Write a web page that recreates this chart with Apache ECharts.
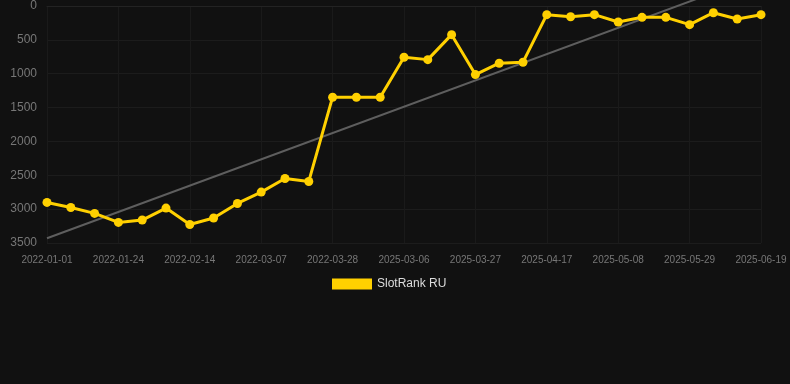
<!DOCTYPE html>
<html>
<head>
<meta charset="utf-8">
<script src="https://cdn.jsdelivr.net/npm/echarts@6/dist/echarts.min.js"></script>
<style>
html,body{margin:0;padding:0;background:#111111;}
#c{width:790px;height:384px;}
</style>
</head>
<body>
<div id="c"></div>
<script>
const categories = [
  '2022-01-01','2022-01-08','2022-01-16','2022-01-24','2022-01-31','2022-02-07',
  '2022-02-14','2022-02-21','2022-02-28','2022-03-07','2022-03-14','2022-03-21',
  '2022-03-28','2025-02-20','2025-02-27','2025-03-06','2025-03-13','2025-03-20',
  '2025-03-27','2025-04-03','2025-04-10','2025-04-17','2025-04-24','2025-05-01',
  '2025-05-08','2025-05-15','2025-05-22','2025-05-29','2025-06-05','2025-06-12',
  '2025-06-19'
];
const rankValues = [
  2901, 2975, 3063, 3196, 3161, 2984,
  3226, 3131, 2916, 2748, 2547, 2591,
  1347, 1347, 1347, 757, 792, 423,
  1013, 845, 830, 128, 158, 128,
  236, 167, 167, 276, 99, 192,
  128
];
const trendEnds = [3430, -455];
const yTicks = { min: 0, max: 3500, interval: 500 };
const seriesName = 'SlotRank RU';

const last = categories.length - 1;
const trendData = categories.map((c, i) => i === 0 ? trendEnds[0] : (i === last ? trendEnds[1] : null));

const chart = echarts.init(document.getElementById('c'), null, { renderer: 'canvas' });
chart.setOption({
  backgroundColor: '#111111',
  animation: false,
  grid: { left: 47, right: 29, top: 6, bottom: 141, containLabel: false },
  legend: {
    show: true,
    data: [{ name: seriesName, icon: 'rect' }],
    top: 273,
    left: 327,
    itemWidth: 40,
    itemHeight: 11,
    itemGap: 6,
    textStyle: { color: '#dddddd', fontSize: 12, fontFamily: 'Liberation Sans, Arial, sans-serif' }
  },
  xAxis: {
    type: 'category',
    data: categories,
    boundaryGap: false,
    axisLine: { show: true, lineStyle: { color: '#232323' } },
    axisTick: { show: false },
    axisLabel: { interval: 2, color: '#777777', fontSize: 10, margin: 12, fontFamily: 'Liberation Sans, Arial, sans-serif' },
    splitLine: { show: true, interval: 2, lineStyle: { color: '#1a1a1a', width: 1 } }
  },
  yAxis: {
    type: 'value',
    inverse: true,
    min: yTicks.min,
    max: yTicks.max,
    interval: yTicks.interval,
    axisLine: { show: false },
    axisTick: { show: false },
    axisLabel: { color: '#777777', fontSize: 12, margin: 10, fontFamily: 'Liberation Sans, Arial, sans-serif', formatter: v => String(v) },
    splitLine: { show: true, lineStyle: { color: '#1c1c1c', width: 1 } }
  },
  series: [
    {
      name: 'trend',
      type: 'line',
      data: trendData,
      connectNulls: true,
      clip: false,
      symbol: 'none',
      silent: true,
      lineStyle: { color: '#5e5e5e', width: 2 },
      z: 1
    },
    {
      name: seriesName,
      type: 'line',
      data: rankValues,
      symbol: 'circle',
      symbolSize: 9,
      showAllSymbol: true,
      itemStyle: { color: '#ffd000' },
      lineStyle: { color: '#ffd000', width: 3 },
      z: 2
    }
  ]
});
</script>
</body>
</html>
